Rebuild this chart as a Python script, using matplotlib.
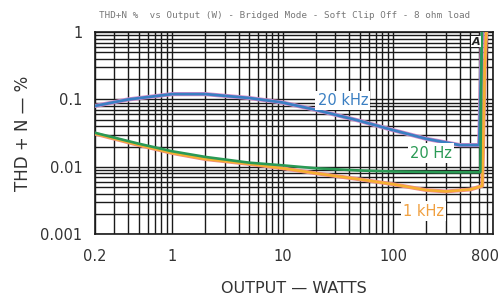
import numpy as np
import matplotlib.pyplot as plt
from matplotlib.ticker import LogLocator, NullFormatter, FixedLocator, FixedFormatter
from matplotlib.transforms import ScaledTranslation

# data (watts, THD+N %)
w_20k = [0.2, 0.4, 1, 2, 5, 10, 20, 50, 100, 200, 400, 600, 625, 640]
thd_20k = [0.08, 0.1, 0.12, 0.12, 0.105, 0.09, 0.07, 0.048, 0.035, 0.026, 0.021, 0.021, 0.3, 1.3]

w_20 = [0.2, 0.5, 1, 2, 5, 10, 20, 50, 100, 300, 615, 635]
thd_20 = [0.032, 0.022, 0.017, 0.014, 0.0115, 0.0105, 0.0095, 0.0088, 0.0085, 0.0083, 0.0083, 1.3]

w_1k = [0.2, 0.5, 1, 2, 5, 10, 20, 50, 100, 200, 300, 500, 640, 675, 700]
thd_1k = [0.031, 0.021, 0.016, 0.013, 0.011, 0.0095, 0.008, 0.0065, 0.0055, 0.0045, 0.0043, 0.0046, 0.0052, 0.3, 1.3]

x_ticks = [0.2, 1, 10, 100, 800]
x_labels = ['0.2', '1', '10', '100', '800']
y_ticks = [0.001, 0.01, 0.1, 1]
y_labels = ['0.001', '0.01', '0.1', '1']

fig = plt.figure(figsize=(5.02, 3.06), dpi=100)
ax = fig.add_axes([0.189, 0.235, 0.793, 0.66])
ax.set_xscale('log')
ax.set_yscale('log')
ax.set_xlim(0.2, 800)
ax.set_ylim(0.001, 1)

# log paper grid
ax.xaxis.set_minor_locator(LogLocator(base=10, subs=np.arange(2, 10)))
ax.yaxis.set_minor_locator(LogLocator(base=10, subs=np.arange(2, 10)))
ax.xaxis.set_minor_formatter(NullFormatter())
ax.yaxis.set_minor_formatter(NullFormatter())
ax.grid(True, which='both', color='#1a1a1a', linewidth=1.0)
ax.set_axisbelow(True)

ax.xaxis.set_major_locator(FixedLocator(x_ticks))
ax.xaxis.set_major_formatter(FixedFormatter(x_labels))
ax.yaxis.set_major_locator(FixedLocator(y_ticks))
ax.yaxis.set_major_formatter(FixedFormatter(y_labels))
ax.tick_params(which='both', length=0, labelsize=10.5, labelcolor='#333333')
ax.tick_params(axis='x', pad=11)
ax.tick_params(axis='y', pad=9)
for s in ax.spines.values():
    s.set_color('#1a1a1a')
    s.set_linewidth(1.2)

# nudge the last x label so it stays inside the figure
fig.canvas.draw()
last = ax.get_xticklabels()[-1]
last.set_transform(last.get_transform() + ScaledTranslation(-6 / 72, 0, fig.dpi_scale_trans))

# curves (pink fringe under blue and orange like the printed original)
ax.plot(w_20k, thd_20k, color='#d88ac8', linewidth=3.0, zorder=3)
ax.plot(w_20k, thd_20k, color='#3a7fc2', linewidth=2.0, zorder=4)
ax.plot(w_1k, thd_1k, color='#f08a8a', linewidth=2.8, zorder=3)
ax.plot(w_1k, thd_1k, color='#f5b030', linewidth=1.8, zorder=4)
ax.plot(w_20, thd_20, color='#2a9a55', linewidth=1.9, zorder=5)

bbox = dict(facecolor='white', edgecolor='none', pad=1.5)
ax.text(35, 0.097, '20 kHz', color='#3a7fc2', fontsize=10.5,
        ha='center', va='center', bbox=bbox, zorder=6)
ax.text(220, 0.016, '20 Hz', color='#2a9a55', fontsize=10.5,
        ha='center', va='center', bbox=bbox, zorder=6)
ax.text(187, 0.0022, '1 kHz', color='#f0a040', fontsize=10.5,
        ha='center', va='center', bbox=bbox, zorder=6)
ax.text(560, 0.72, 'A', color='#222222', fontsize=8, fontweight='bold', style='italic',
        ha='center', va='center', bbox=dict(facecolor='white', edgecolor='none', pad=0.5), zorder=6)

fig.text(0.567, 0.95, 'THD+N %  vs Output (W) - Bridged Mode - Soft Clip Off - 8 ohm load',
         family='DejaVu Sans Mono', fontsize=6.7, color='#777777', ha='center', va='center')
ax.set_xlabel('OUTPUT \u2014 WATTS', fontsize=11.5, color='#333333', labelpad=12)
ax.set_ylabel('THD + N \u2014 %', fontsize=12, color='#333333', labelpad=6)

fig.savefig('out.png', dpi=100)
